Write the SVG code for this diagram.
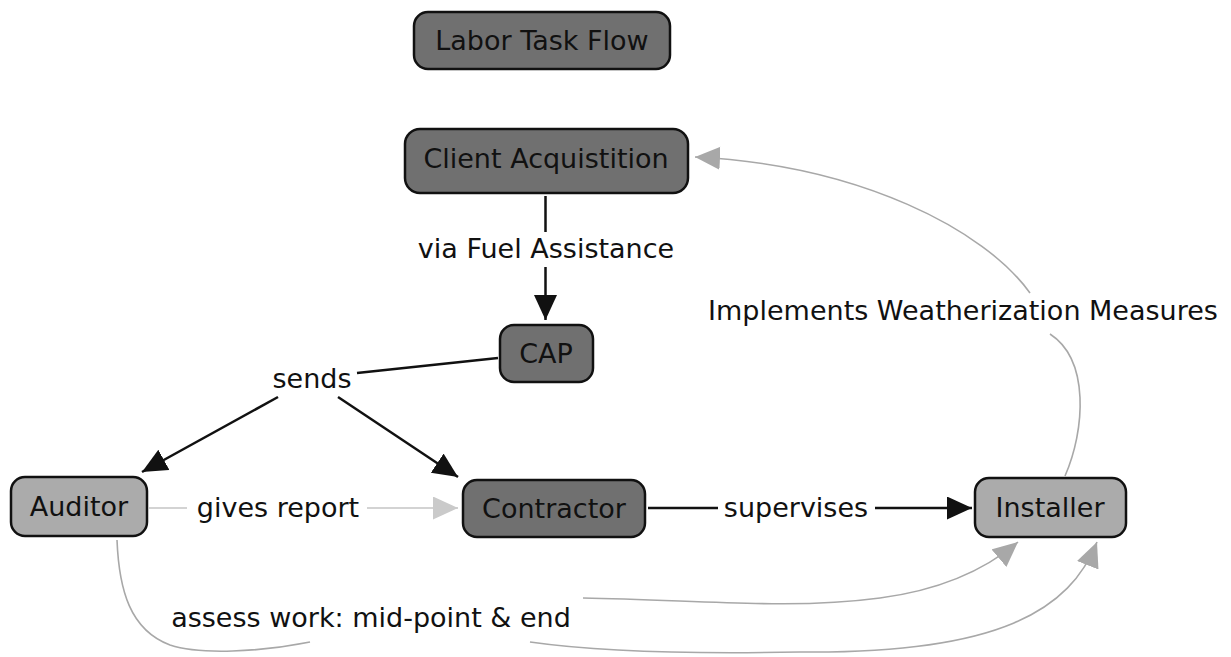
<svg xmlns="http://www.w3.org/2000/svg" width="1231" height="657" viewBox="0 0 1231 657">
<style>
text{font-family:"DejaVu Sans","Verdana","Liberation Sans",sans-serif;font-size:27px;fill:#111;text-anchor:middle}
.dark{fill:#707070;stroke:#111;stroke-width:2.5}
.light{fill:#ababab;stroke:#111;stroke-width:2.5}
.blk{fill:none;stroke:#111;stroke-width:2.5}
.gry{fill:none;stroke:#a8a8a8;stroke-width:1.6}
.lgry{fill:none;stroke:#c4c4c4;stroke-width:1.6}
</style>
<defs>
<marker id="ab" markerUnits="userSpaceOnUse" markerWidth="26" markerHeight="24" refX="25" refY="11.5" orient="auto"><path d="M0,0 L25,11.5 L0,23 z" fill="#111"/></marker>
<marker id="ag" markerUnits="userSpaceOnUse" markerWidth="26" markerHeight="24" refX="25" refY="11.5" orient="auto"><path d="M0,0 L25,11.5 L0,23 z" fill="#a8a8a8"/></marker>
<marker id="al" markerUnits="userSpaceOnUse" markerWidth="26" markerHeight="24" refX="25" refY="11.5" orient="auto"><path d="M0,0 L25,11.5 L0,23 z" fill="#cacaca"/></marker>
</defs>
<g id="connectors">
<line class="blk" x1="545.5" y1="196" x2="545.5" y2="232"/>
<text x="546" y="258">via Fuel Assistance</text>
<line class="blk" x1="545.5" y1="267" x2="545.5" y2="320" marker-end="url(#ab)"/>
<line class="blk" x1="498" y1="358" x2="357" y2="373"/>
<text x="312" y="388">sends</text>
<line class="blk" x1="278" y1="397" x2="142" y2="472" marker-end="url(#ab)"/>
<line class="blk" x1="338" y1="397" x2="458" y2="477" marker-end="url(#ab)"/>
<line class="lgry" x1="149" y1="508" x2="187" y2="508"/>
<text x="278" y="517">gives report</text>
<line class="lgry" x1="367" y1="508" x2="458" y2="508" marker-end="url(#al)"/>
<line class="blk" x1="648" y1="508" x2="718" y2="508"/>
<text x="796" y="517">supervises</text>
<line class="blk" x1="875" y1="508" x2="972" y2="508" marker-end="url(#ab)"/>
<path class="gry" d="M1065,476 C1085,430 1090,360 1050,334"/>
<text x="963" y="320">Implements Weatherization Measures</text>
<path class="gry" d="M1030,293 C985,230 860,165 695,157" marker-end="url(#ag)"/>
<path class="gry" d="M117,540 C119,590 130,630 170,645 C200,655 260,652 310,642"/>
<text x="371" y="627">assess work: mid-point &amp; end</text>
<path class="gry" d="M583,598 C700,600 790,610 880,598 C940,590 985,570 1018,542" marker-end="url(#ag)"/>
<path class="gry" d="M530,642 C600,652 700,654 800,652 C1000,654 1070,610 1097,542" marker-end="url(#ag)"/>
</g>
<g id="labor-task-flow"><rect class="dark" x="414" y="12" width="256" height="57" rx="14"/><text x="542" y="50">Labor Task Flow</text></g>
<g id="client-acquisition"><rect class="dark" x="405" y="129" width="283" height="64" rx="15"/><text x="546" y="168">Client Acquistition</text></g>
<g id="cap"><rect class="dark" x="500" y="325" width="93" height="57" rx="14"/><text x="546" y="363">CAP</text></g>
<g id="auditor"><rect class="light" x="11" y="477" width="136" height="59" rx="14"/><text x="79" y="516">Auditor</text></g>
<g id="contractor"><rect class="dark" x="463" y="480" width="182" height="57" rx="14"/><text x="554" y="518">Contractor</text></g>
<g id="installer"><rect class="light" x="975" y="478" width="151" height="59" rx="14"/><text x="1050" y="517">Installer</text></g>
</svg>
